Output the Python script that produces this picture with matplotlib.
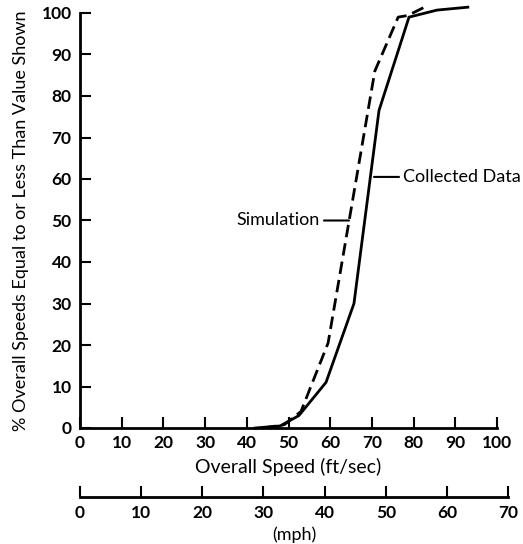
import matplotlib
matplotlib.use("Agg")
import matplotlib.pyplot as plt

plt.rcParams['font.family'] = ['Lato', 'DejaVu Sans']

# Cumulative speed distributions (ft/sec vs percent)
collected_speed = [42, 48, 52.5, 59, 65.7, 71.7, 78.9, 85.6, 93]
collected_pct = [0, 0.5, 3, 11, 30, 76.5, 99, 100.7, 101.4]
simulation_speed = [44, 49, 53, 59.5, 70.7, 76.3, 78.6, 83.2]
simulation_pct = [0, 0.8, 4, 20.5, 86, 99, 99.4, 101.7]

ft_ticks = list(range(0, 101, 10))
pct_ticks = list(range(0, 101, 10))
mph_ticks = list(range(0, 71, 10))
FT_PER_MPH = 5280 / 3600

W, H = 523, 544
fig = plt.figure(figsize=(W / 100, H / 100), dpi=100)

left = 80 / W
right = 497 / W
bottom = 1 - 428 / H
top = 1 - 13 / H
ax = fig.add_axes([left, bottom, right - left, top - bottom])

ax.plot(collected_speed, collected_pct, color='black', lw=2.0, clip_on=False,
        solid_joinstyle='miter')
ax.plot(simulation_speed, simulation_pct, color='black', lw=2.0, clip_on=False,
        dashes=(4.5, 2.2))

ax.set_xlim(0, 100)
ax.set_ylim(0, 100)
for s in ('top', 'right'):
    ax.spines[s].set_visible(False)
ax.spines['left'].set_linewidth(2.0)
ax.spines['bottom'].set_linewidth(2.0)
ax.set_xticks(ft_ticks)
ax.set_yticks(pct_ticks)
ax.tick_params(axis='both', direction='in', length=8, width=1.5,
               labelsize=12.5)
ax.tick_params(axis='x', pad=5)
ax.tick_params(axis='y', pad=6)
for lbl in ax.get_xticklabels() + ax.get_yticklabels():
    lbl.set_fontweight('bold')

ax.set_xlabel('Overall Speed (ft/sec)', fontsize=14, labelpad=5)
ax.set_ylabel('% Overall Speeds Equal to or Less Than Value Shown',
              fontsize=13, labelpad=9)

# Curve labels with leader lines
ax.annotate('Simulation', xy=(64.5, 50), xytext=(57.5, 50),
            fontsize=13, ha='right', va='center',
            arrowprops=dict(arrowstyle='-', lw=1.5, color='black',
                            shrinkA=1, shrinkB=0))
ax.annotate('Collected Data', xy=(70.5, 60.5), xytext=(77.5, 60.5),
            fontsize=13, ha='left', va='center',
            arrowprops=dict(arrowstyle='-', lw=1.5, color='black',
                            shrinkA=1, shrinkB=0))

# Secondary scale in mph
mph_w = 70 * FT_PER_MPH * (right - left) / 100
ax2 = fig.add_axes([left, 1 - 497 / H, mph_w, 0.001])
ax2.set_xlim(0, 70)
ax2.set_ylim(0, 1)
for s in ('top', 'right', 'left'):
    ax2.spines[s].set_visible(False)
ax2.spines['bottom'].set_linewidth(2.0)
ax2.set_yticks([])
ax2.set_xticks(mph_ticks)
ax2.tick_params(axis='x', direction='in', length=8, width=1.5,
                labelsize=12.5, pad=6)
for lbl in ax2.get_xticklabels():
    lbl.set_fontweight('bold')
ax2.set_xlabel('(mph)', fontsize=13, labelpad=4)

fig.savefig('out.png', dpi=100)
